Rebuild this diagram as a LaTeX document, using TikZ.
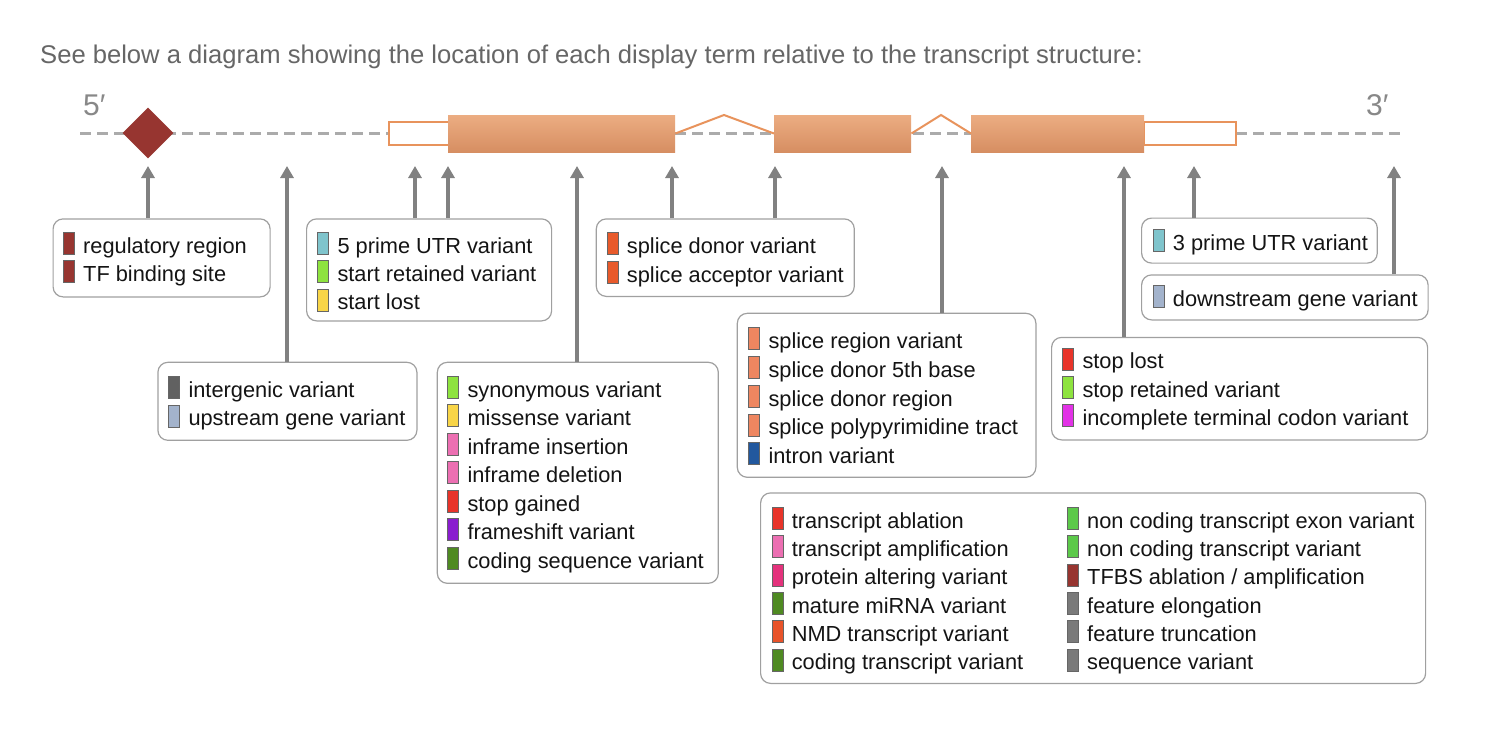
\documentclass[tikz,border=0pt]{standalone}
\usepackage{fontspec}
\setmainfont{Liberation Sans}
\usepackage{xcolor}
\usetikzlibrary{shapes.geometric, arrows.meta, positioning, calc}

% colours of the display terms
\definecolor{regred}{HTML}{973530}
\definecolor{utrcyan}{HTML}{7FC4CC}
\definecolor{litegreen}{HTML}{8EE33F}
\definecolor{startgold}{HTML}{F8D548}
\definecolor{intergray}{HTML}{616161}
\definecolor{steelgray}{HTML}{A3B3CC}
\definecolor{hotpink}{HTML}{EC6FB2}
\definecolor{stopred}{HTML}{E8342A}
\definecolor{fsviolet}{HTML}{8A1ECF}
\definecolor{codegreen}{HTML}{4F8A22}
\definecolor{spliceorange}{HTML}{E85A2B}
\definecolor{coral}{HTML}{EE8660}
\definecolor{intronblue}{HTML}{22589E}
\definecolor{magentap}{HTML}{E232E6}
\definecolor{protpink}{HTML}{E4327C}
\definecolor{nmdorange}{HTML}{E8532A}
\definecolor{ncgreen}{HTML}{5CC94A}
\definecolor{featgray}{HTML}{7A7A7A}
% colours of the transcript
\definecolor{exontop}{HTML}{ECAD82}
\definecolor{exonmid}{HTML}{DE8448}
\definecolor{exonbot}{HTML}{D68E62}
\definecolor{exonline}{HTML}{E8935C}
\definecolor{dashgray}{HTML}{ABABAB}
\definecolor{arrowgray}{HTML}{818181}
\definecolor{panelgray}{HTML}{A0A0A0}
\definecolor{headgray}{HTML}{666666}
\definecolor{endgray}{HTML}{888888}

\newcommand{\termfont}{\fontsize{21.8}{26}\selectfont}
\newcommand{\headfont}{\fontsize{25.6}{30}\selectfont}

\tikzset{
  panel/.style={draw=panelgray, line width=1.2pt, rounded corners=10pt, fill=white,
    inner sep=0pt, anchor=north west},
  swatch/.style={draw=black!60, line width=1pt, minimum width=11pt, minimum height=22pt,
    inner sep=0pt},
  termtext/.style={anchor=base west, inner sep=0pt, font=\termfont, text=black!92},
  pointer/.style={draw=arrowgray, line width=3.5pt, -{Triangle[length=12pt,width=13pt]}},
  backbone/.style={draw=dashgray, line width=3pt, dash pattern=on 11pt off 6pt},
  exon/.style={top color=exontop, middle color=exonmid, bottom color=exonbot,
    inner sep=0pt, minimum height=37pt, anchor=west},
  utrbox/.style={draw=exonline, line width=2pt, fill=white, inner sep=0pt,
    minimum height=23pt, anchor=west},
  intron/.style={draw=exonline, line width=2pt},
  endlabel/.style={anchor=base west, inner sep=0pt, font=\fontsize{30}{30}\selectfont, text=endgray}
}

% name, swatch left x, row centre y, colour, text
\newcommand{\term}[5]{%
  \node[swatch, fill=#4] (#1) at (#2+6,#3) {};
  \node[termtext] (#1-txt) at (#2+20,#3+9.8) {#5};
}

\begin{document}
\begin{tikzpicture}[x=1pt, y=-1pt]
  \useasboundingbox[fill=white] (0,0) rectangle (1500,744);

  \node[anchor=base west, inner sep=0pt, font=\headfont, text=headgray] (caption) at (40,63)
    {See below a diagram showing the location of each display term relative to the transcript structure:};

  % transcript
  \coordinate (five) at (80,133);
  \coordinate (three) at (1404,133);
  \draw[backbone] (five) -- (three);
  \node[endlabel] (fivelab) at (83,115) {5′};
  \node[endlabel] (threelab) at (1366,115) {3′};
  \node[diamond, fill=regred, minimum size=51pt, inner sep=0pt] (tfsite) at (148,133) {};

  \node[utrbox, minimum width=60pt] (utr5) at (388,133) {};
  \node[utrbox, minimum width=92pt] (utr3) at (1143,133) {};
  \node[exon, minimum width=227pt] (ex1) at (448,133.5) {};
  \node[exon, minimum width=137pt] (ex2) at (774,133.5) {};
  \node[exon, minimum width=173pt] (ex3) at (971,133.5) {};
  \coordinate (peak1) at (724,115);
  \coordinate (peak2) at (941,115);
  \draw[intron] (ex1.east) -- (peak1) -- (ex2.west);
  \draw[intron] (ex2.east) -- (peak2) -- (ex3.west);

  % where each arrow points
  \foreach \n/\x in {a1/148, a2/287, a3/415, a4/448, a5/577, a6/672, a7/775,
                     a8/942, a9/1124, a10/1194, a11/1394}
    \coordinate (\n) at (\x,166);

  % panels
  \node[panel, minimum width=217pt, minimum height=78pt] (regbox) at (52.5,218.3) {};
  \term{reg1}{63}{243.3}{regred}{regulatory region}
  \term{reg2}{63}{271.7}{regred}{TF binding site}

  \node[panel, minimum width=245pt, minimum height=102pt] (utrfive) at (306,218.3) {};
  \term{utr1}{317.3}{243.3}{utrcyan}{5 prime UTR variant}
  \term{utr2}{317.3}{271.7}{litegreen}{start retained variant}
  \term{utr3t}{317.3}{300}{startgold}{start lost}

  \node[panel, minimum width=259pt, minimum height=78pt] (interbox) at (157.3,361.7) {};
  \term{int1}{168.3}{387.5}{intergray}{intergenic variant}
  \term{int2}{168.3}{416}{steelgray}{upstream gene variant}

  \node[panel, minimum width=281pt, minimum height=221pt] (cdsbox) at (436.7,361.7) {};
  \term{cds1}{447.3}{387.3}{litegreen}{synonymous variant}
  \term{cds2}{447.3}{415.8}{startgold}{missense variant}
  \term{cds3}{447.3}{444.3}{hotpink}{inframe insertion}
  \term{cds4}{447.3}{472.8}{hotpink}{inframe deletion}
  \term{cds5}{447.3}{501.3}{stopred}{stop gained}
  \term{cds6}{447.3}{529.8}{fsviolet}{frameshift variant}
  \term{cds7}{447.3}{558.3}{codegreen}{coding sequence variant}

  \node[panel, minimum width=258pt, minimum height=77.5pt] (splicebox) at (595.7,218.3) {};
  \term{spl1}{606.7}{243.7}{spliceorange}{splice donor variant}
  \term{spl2}{606.7}{272.3}{spliceorange}{splice acceptor variant}

  \node[panel, minimum width=298.6pt, minimum height=164pt] (regionbox) at (736.7,312.7) {};
  \term{srg1}{748.3}{338.7}{coral}{splice region variant}
  \term{srg2}{748.3}{367.5}{coral}{splice donor 5th base}
  \term{srg3}{748.3}{396.3}{coral}{splice donor region}
  \term{srg4}{748.3}{425.1}{coral}{splice polypyrimidine tract}
  \term{srg5}{748.3}{453.9}{intronblue}{intron variant}

  \node[panel, minimum width=235.7pt, minimum height=45pt] (utrthree) at (1141,217.5) {};
  \term{tp1}{1152.7}{240.3}{utrcyan}{3 prime UTR variant}

  \node[panel, minimum width=286.5pt, minimum height=45pt] (downbox) at (1141,274.3) {};
  \term{dn1}{1152.7}{296.7}{steelgray}{downstream gene variant}

  \node[panel, minimum width=376pt, minimum height=102.5pt] (stopbox) at (1051,336.8) {};
  \term{stp1}{1062.3}{359}{stopred}{stop lost}
  \term{stp2}{1062.3}{387.2}{litegreen}{stop retained variant}
  \term{stp3}{1062.3}{415.4}{magentap}{incomplete terminal codon variant}

  \node[panel, minimum width=665pt, minimum height=190.5pt] (otherbox) at (760,492.3) {};
  \foreach \i/\c/\t in {0/stopred/transcript ablation, 1/hotpink/transcript amplification,
      2/protpink/protein altering variant, 3/codegreen/mature miRNA variant,
      4/nmdorange/NMD transcript variant, 5/codegreen/coding transcript variant}
    {\term{ol\i}{771.6}{518.3+28.35*\i}{\c}{\t}}
  \foreach \i/\c/\t in {0/ncgreen/non coding transcript exon variant, 1/ncgreen/non coding transcript variant,
      2/regred/{TFBS ablation / amplification}, 3/featgray/feature elongation,
      4/featgray/feature truncation, 5/featgray/sequence variant}
    {\term{or\i}{1067}{518.3+28.35*\i}{\c}{\t}}

  % arrows
  \draw[pointer] (regbox.north -| a1) -- (a1);
  \draw[pointer] (interbox.north -| a2) -- (a2);
  \draw[pointer] (utrfive.north -| a3) -- (a3);
  \draw[pointer] (utrfive.north -| a4) -- (a4);
  \draw[pointer] (cdsbox.north -| a5) -- (a5);
  \draw[pointer] (splicebox.north -| a6) -- (a6);
  \draw[pointer] (splicebox.north -| a7) -- (a7);
  \draw[pointer] (regionbox.north -| a8) -- (a8);
  \draw[pointer] (stopbox.north -| a9) -- (a9);
  \draw[pointer] (utrthree.north -| a10) -- (a10);
  \draw[pointer] (downbox.north -| a11) -- (a11);
\end{tikzpicture}
\end{document}
